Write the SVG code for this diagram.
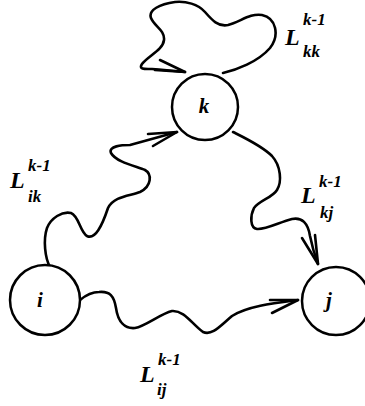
<svg xmlns="http://www.w3.org/2000/svg" width="365" height="406" viewBox="0 0 365 406">
  <style>
    .node { fill: #fff; stroke: #000; stroke-width: 2.5; }
    .edge { fill: none; stroke: #000; stroke-width: 2.6; stroke-linecap: round; stroke-linejoin: round; }
    .lbl { font-family: "Liberation Serif", serif; font-weight: bold; font-style: italic; fill: #000; }
    .nl { font-size: 21px; text-anchor: middle; }
    .big { font-size: 24px; }
    .sm { font-size: 17px; }
  </style>
  <rect width="365" height="406" fill="#fff"/>
  <g id="connectors">
    <!-- self loop on k -->
    <path class="edge" d="M223,73 C236,70 258,62 270,48 C280,35 276,18 262,15 C250,13 240,22 228,25 C218,27 212,20 205,12 C198,4 186,1 175,2 C160,4 148,10 151,18 C154,26 165,30 164,40 C163,50 148,56 142,64 C138,70 146,69 152,69 C165,70 175,71 185,72"/>
    <path class="edge" d="M160,60 L185,72 L155,70"/>
    <!-- i to k -->
    <path class="edge" d="M50,267 C45,258 43,240 47,228 C51,218 62,211 71,213 C79,216 80,232 87,236 C95,240 102,226 108,208 C114,196 130,196 140,192 C152,186 152,174 145,170 C135,166 116,162 111,153 C108,146 122,145 130,145 C145,141 162,136 177,132"/>
    <path class="edge" d="M148,134 L177,132 L153,146"/>
    <!-- k to j -->
    <path class="edge" d="M233,132 C245,138 262,146 272,156 C281,166 282,182 277,190 C272,198 260,200 254,208 C250,216 250,228 257,229 C265,230 280,222 292,219 C302,217 308,223 310,236 C312,246 315,256 318,264"/>
    <path class="edge" d="M302,238 L318,264 L315,235"/>
    <!-- i to j -->
    <path class="edge" d="M80,300 C86,295 92,292 99,292 C110,291 114,296 116,308 C118,322 125,329 135,328 C146,326 160,314 172,311 C184,310 192,324 203,332 C212,336 220,326 232,316 C248,306 275,303 298,300"/>
    <path class="edge" d="M270,300 L298,300 L272,313"/>
  </g>
  <g id="node-k">
    <circle class="node" cx="205" cy="107" r="33"/>
    <text class="lbl nl" x="204" y="113">k</text>
  </g>
  <g id="node-i">
    <circle class="node" cx="45" cy="300" r="35"/>
    <text class="lbl nl" x="40" y="307">i</text>
  </g>
  <g id="node-j">
    <circle class="node" cx="336" cy="301" r="34"/>
    <text class="lbl nl" x="329" y="307">j</text>
  </g>
  <g id="label-kk">
    <text class="lbl big" x="285" y="45">L</text>
    <text class="lbl sm" x="303" y="25">k-1</text>
    <text class="lbl sm" x="303" y="57">kk</text>
  </g>
  <g id="label-ik">
    <text class="lbl big" x="10" y="188">L</text>
    <text class="lbl sm" x="28" y="171">k-1</text>
    <text class="lbl sm" x="28" y="202">ik</text>
  </g>
  <g id="label-kj">
    <text class="lbl big" x="301" y="203">L</text>
    <text class="lbl sm" x="319" y="187">k-1</text>
    <text class="lbl sm" x="320" y="218">kj</text>
  </g>
  <g id="label-ij">
    <text class="lbl big" x="140" y="382">L</text>
    <text class="lbl sm" x="158" y="365">k-1</text>
    <text class="lbl sm" x="157" y="395">ij</text>
  </g>
</svg>
